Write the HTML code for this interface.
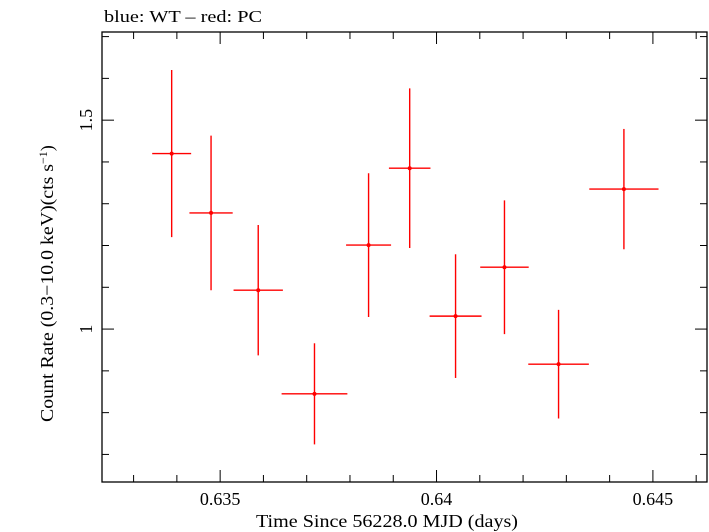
<!DOCTYPE html>
<html><head><meta charset="utf-8"><style>
html,body{margin:0;padding:0;background:#fff;}
svg{display:block;font-family:"Liberation Serif",serif;}
</style></head><body>
<svg id="chart" width="709" height="532" viewBox="0 0 709 532">
<text x="104" y="22" font-size="17" textLength="158" lengthAdjust="spacingAndGlyphs">blue: WT – red: PC</text>
<rect x="102" y="32" width="605" height="450" fill="none" stroke="#000" stroke-width="1.3"/>
<g id="axes"></g>
<g id="marks"></g>
<text x="256" y="527" font-size="18" textLength="262" lengthAdjust="spacingAndGlyphs">Time Since 56228.0 MJD (days)</text>
<text transform="translate(53,422) rotate(-90)" font-size="18"><tspan textLength="258" lengthAdjust="spacingAndGlyphs">Count Rate (0.3−10.0 keV)(cts s</tspan><tspan dy="-6" font-size="12">−1</tspan><tspan dy="6">)</tspan></text>
</svg>
<script>
const times=[0.63388,0.63479,0.63588,0.63718,0.63843,0.63938,0.64044,0.64157,0.64282,0.64433];
const timeErr=[0.00045,0.0005,0.00057,0.00076,0.00052,0.00048,0.0006,0.00056,0.0007,0.0008];
const rates=[1.420,1.278,1.093,0.845,1.201,1.385,1.031,1.148,0.916,1.335];
const rateErr=[0.200,0.185,0.156,0.121,0.172,0.191,0.148,0.160,0.130,0.144];
const xTicks=[0.635,0.64,0.645];
const xTickLabels=["0.635","0.64","0.645"];
const yTicks=[1,1.5];
const yTickLabels=["1","1.5"];
const L=102,R=707,T=32,B=482;
const x0=0.63227,x1=0.64625,y0=0.634,y1=1.711;
const X=v=>L+(v-x0)/(x1-x0)*(R-L);
const Y=v=>B-(v-y0)/(y1-y0)*(B-T);
const NS="http://www.w3.org/2000/svg";
function mk(tag,attrs,parent){const e=document.createElementNS(NS,tag);for(const k in attrs)e.setAttribute(k,attrs[k]);parent.appendChild(e);return e;}
const axes=document.getElementById('axes'),marks=document.getElementById('marks');
for(let i=633;i<=646;i++){const v=i/1000;if(v<x0||v>x1)continue;const major=i%5===0;const len=major?12:7;
const t1=mk('line',{x1:X(v),x2:X(v),y1:B,y2:B-len,stroke:'#000','stroke-width':1},axes);


const t2=mk('line',{x1:X(v),x2:X(v),y1:T,y2:T+len,stroke:'#000','stroke-width':1},axes);

}
for(let i=7;i<=17;i++){const v=i/10;if(v<y0||v>y1)continue;const major=(i===10||i===15);const len=major?12:7;
const t1=mk('line',{x1:L,x2:L+len,y1:Y(v),y2:Y(v),stroke:'#000','stroke-width':1},axes);


const t2=mk('line',{x1:R,x2:R-len,y1:Y(v),y2:Y(v),stroke:'#000','stroke-width':1},axes);

}
xTicks.forEach((v,i)=>{const t=mk('text',{x:X(v),y:505,'font-size':18,'text-anchor':'middle'},axes);t.textContent=xTickLabels[i];

});
yTicks.forEach((v,i)=>{const t=mk('text',{transform:`translate(92,${Y(v)}) rotate(-90)`,'font-size':18,'text-anchor':'middle'},axes);t.textContent=yTickLabels[i];

});
times.forEach((t,i)=>{const g=mk('g',{},marks);


mk('line',{x1:X(t-timeErr[i]),x2:X(t+timeErr[i]),y1:Y(rates[i]),y2:Y(rates[i]),stroke:'#f00','stroke-width':1.4},g);
mk('line',{x1:X(t),x2:X(t),y1:Y(rates[i]-rateErr[i]),y2:Y(rates[i]+rateErr[i]),stroke:'#f00','stroke-width':1.4},g);
mk('circle',{cx:X(t),cy:Y(rates[i]),r:2,fill:'#f00'},g);});
</script>
</body></html>
